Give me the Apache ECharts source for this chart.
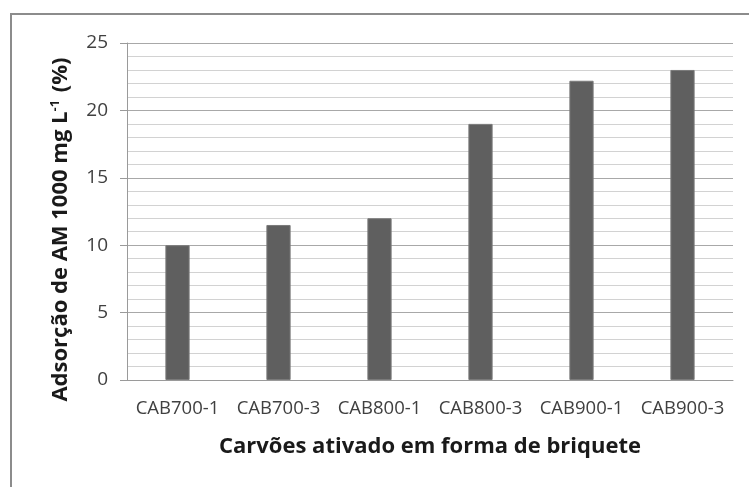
<!DOCTYPE html>
<html>
<head>
<meta charset="utf-8">
<style>
  html, body { margin: 0; padding: 0; background: #fff; }
  #chart { width: 749px; height: 487px; }
</style>
<script src="https://cdn.jsdelivr.net/npm/echarts@6/dist/echarts.min.js"></script>
</head>
<body>
<div id="chart"></div>
<script>
// amostras e valores de adsorção (%)
const categories = ['CAB700-1', 'CAB700-3', 'CAB800-1', 'CAB800-3', 'CAB900-1', 'CAB900-3'];
const adsorcao = [10.0, 11.5, 12.0, 19.0, 22.2, 23.0];
const yTicks = { min: 0, max: 25, interval: 5 };

const font = 'Open Sans';

let option = {
    animation: false,
    backgroundColor: '#fff',
    graphic: [{
        type: 'rect',
        shape: { x: 11, y: 14, width: 800, height: 600 },
        style: { fill: 'none', stroke: '#8c8c8c', lineWidth: 2 },
        silent: true
    }],
    grid: { left: 127, top: 43, right: 16, bottom: 107 },
    xAxis: {
        type: 'category',
        data: categories,
        name: 'Carvões ativado em forma de briquete',
        nameLocation: 'middle',
        nameGap: 56,
        nameTextStyle: { fontFamily: font, fontWeight: 'bold', fontSize: 22, color: '#1a1a1a' },
        axisLine: { lineStyle: { color: '#9a9a9a', width: 1 } },
        axisTick: { show: false },
        axisLabel: { interval: 0, fontFamily: font, fontSize: 18.5, color: '#404040', margin: 19 }
    },
    yAxis: {
        type: 'value',
        min: yTicks.min,
        max: yTicks.max,
        interval: yTicks.interval,
        name: 'Adsorção de AM 1000 mg L{sup|-1} (%)',
        nameLocation: 'middle',
        nameGap: 55,
        nameTextStyle: {
            fontFamily: font, fontWeight: 'bold', fontSize: 22, color: '#1a1a1a',
            padding: [0, 36, 0, 0],
            rich: {
                sup: { fontFamily: font, fontWeight: 'bold', fontSize: 13, color: '#1a1a1a', verticalAlign: 'top', padding: [0, 2, 10, 0] }
            }
        },
        axisLine: { show: true, lineStyle: { color: '#9a9a9a', width: 1 } },
        axisTick: { show: true, length: 7, lineStyle: { color: '#9a9a9a' } },
        axisLabel: { fontFamily: font, fontSize: 19, color: '#404040', margin: 19 },
        splitLine: { lineStyle: { color: '#a8a8a8', width: 1 } },
        minorTick: { show: false, splitNumber: 5 },
        minorSplitLine: { show: true, lineStyle: { color: '#d2d2d2', width: 1 } }
    },
    series: [{
        type: 'bar',
        data: adsorcao,
        barWidth: '24%',
        itemStyle: { color: '#5f5f5f', borderColor: '#7a7a7a', borderWidth: 1 }
    }]
};

var myChart = echarts.init(document.getElementById('chart'));
myChart.setOption(option);
</script>
</body>
</html>
